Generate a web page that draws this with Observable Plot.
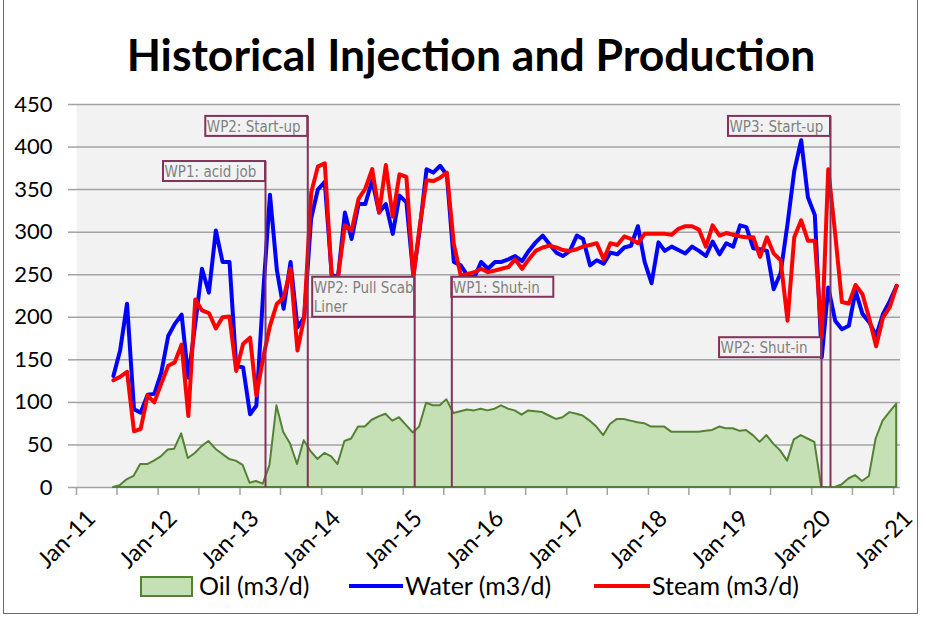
<!DOCTYPE html>
<html>
<head>
<meta charset="utf-8">
<script src="https://cdn.jsdelivr.net/npm/d3@7"></script>
<script src="https://cdn.jsdelivr.net/npm/@observablehq/plot@0.6"></script>
<style>
  body { margin: 0; background: #fff; }
  #wrap { position: relative; width: 926px; height: 620px; overflow: hidden; font-family: Lato, "Open Sans", sans-serif; color: #000; }
  #border { position: absolute; left: 3px; top: -3px; width: 915px; height: 617px; border: 1.5px solid #6b6b6b; box-sizing: border-box; }
  #title { position: absolute; top: 26px; left: 16px; width: 910px; text-align: center; font-weight: 700; font-size: 44.5px; line-height: 56px; white-space: nowrap; }
  #chart { position: absolute; left: 0; top: 90px; }
  .sw { position: absolute; box-sizing: border-box; }
  .lt { position: absolute; font-size: 25px; line-height: 30px; top: 570px; white-space: nowrap; }
</style>
</head>
<body>
<div id="wrap">
  <div id="border"></div>
  <div id="title">Historical Injection and Production</div>
  <div id="chart"></div>
  <div id="legend"></div>
</div>
<script>
// ---- Data (monthly, June 2011 – January 2021) ----
const water = [
  131,161,216,92,88,109,110,
  135,178,192,203,129,192,257,229,302,265,265,143,
  141,86,96,230,344,255,210,265,188,200,316,350,
  359,250,247,323,292,333,333,361,323,333,298,343,
  335,249,302,374,370,378,367,265,261,249,247,265,
  257,265,265,268,272,266,278,288,296,286,276,272,
  278,296,292,261,267,263,276,274,282,284,307,265,
  240,288,278,283,279,275,283,278,272,289,274,287,
  283,308,306,281,280,278,233,252,310,372,408,341,
  320,153,235,196,186,190,231,204,194,178,204,219,
  237
];
const steam = [
  126,130,136,66,69,108,100,
  122,143,147,168,84,221,208,205,187,200,201,137,
  169,176,108,153,190,216,223,257,161,200,346,377,
  381,247,247,308,302,339,351,374,323,379,318,368,
  365,247,306,361,360,364,370,286,249,251,253,257,
  253,255,257,259,268,257,268,278,282,284,282,279,
  278,280,283,285,287,268,287,285,295,292,287,298,
  298,298,298,297,304,307,307,303,283,308,296,299,
  297,295,294,294,271,294,275,267,196,294,314,290,
  290,176,374,298,218,216,238,227,198,166,200,212,
  237
];
const oil = [
  0,2,9,13,27,27,31,
  36,44,45,63,34,40,48,54,45,39,33,31,
  26,5,7,4,26,96,65,51,27,55,42,33,
  40,36,27,54,57,71,71,79,83,86,78,82,
  73,64,71,99,96,96,103,87,89,91,90,92,
  90,92,96,92,90,85,90,89,88,84,80,82,
  88,86,84,78,71,61,74,80,80,78,76,75,
  71,71,71,65,65,65,65,65,66,67,71,69,
  69,66,67,61,53,61,51,43,31,56,61,57,
  53,0,0,0,3,10,14,7,13,57,78,88,
  98
];
const yTicks = [0,50,100,150,200,250,300,350,400,450];
const xLabelYears = [2011,2012,2013,2014,2015,2016,2017,2018,2019,2020,2021];

// Event annotations
const annLabels = ["WP1: acid job","WP2: Start-up","WP2: Pull Scab\nLiner","WP1: Shut-in","WP3: Start-up","WP2: Shut-in"];
const annDates  = ["2013-04-25","2013-10-31","2015-02-21","2015-08-06","2020-03-25","2020-02-14"];
const annTops   = [383,436,247,247,436,176];
const annSides  = ["left","left","left","right","left","left"];

const legendLabels = ["Oil (m3/d)","Water (m3/d)","Steam (m3/d)"];

// ---- Build ----
const rows = water.map((w,i) => ({
  date: new Date(Date.UTC(2011, 5 + i, 15)),
  water: w, steam: steam[i], oil: oil[i]
}));
const DAY = 864e5, boxDays = 456, lineUnits = 23.5;
const ann = annLabels.map((label,i) => {
  const d = new Date(annDates[i] + "T00:00Z");
  const n = label.split("\n").length;
  const other = new Date(+d + (annSides[i] === "left" ? -1 : 1) * boxDays * DAY);
  return {label, date: d, top: annTops[i], bottom: annTops[i] - n*lineUnits,
          left: annSides[i] === "left" ? other : d, right: annSides[i] === "left" ? d : other};
});
const x0 = new Date(Date.UTC(2011,0,1)), x1 = new Date(Date.UTC(2021,1,1));
const halfYear = d3.utcMonth.every(6).range(x0, x1);
const yearTicks = xLabelYears.map(y => new Date(Date.UTC(y,0,1)));
const grid = "#a3a3a3", annColor = "#83325a";
const narrow = "'Liberation Sans Narrow','DejaVu Sans Condensed',sans-serif";

const chart = Plot.plot({
  width: 926, height: 480,
  marginTop: 14, marginBottom: 83, marginLeft: 76, marginRight: 26,
  x: {type: "utc", domain: [x0, x1]},
  y: {domain: [0, 450]},
  style: {fontFamily: "Lato, sans-serif", background: "transparent", overflow: "visible"},
  marks: [
    Plot.frame({fill: "#f2f2f2", stroke: null}),
    Plot.gridY(yTicks, {stroke: grid, strokeOpacity: 1, strokeWidth: 1.5}),
    Plot.axisY(yTicks, {tickSize: 8, tickPadding: 16, fontSize: 22, stroke: grid, strokeWidth: 1.5, fill: "#000", label: null, tickFormat: d => String(d)}),
    Plot.axisX(halfYear, {tickSize: 8, stroke: grid, strokeWidth: 1.5, fill: "none", label: null}),
    Plot.axisX(yearTicks, {tickSize: 0, tickPadding: 27, tickRotate: -45, fontSize: 23.5, fill: "#000", textAnchor: "end", lineAnchor: "middle", dx: 15, label: null, tickFormat: d3.utcFormat("%b-%y")}),
    Plot.areaY(rows, {x: "date", y: "oil", fill: "#c5e0b4", stroke: "#548235", strokeWidth: 2, curve: "linear"}),
    Plot.lineY(rows, {x: "date", y: "water", stroke: "#0000ff", strokeWidth: 4, strokeLinejoin: "round"}),
    Plot.lineY(rows, {x: "date", y: "steam", stroke: "#ff0000", strokeWidth: 4, strokeLinejoin: "round"}),
    Plot.rect(ann, {x1: "left", x2: "right", y1: "bottom", y2: "top", fill: "#f2f2f2", stroke: annColor, strokeWidth: 2}),
    Plot.ruleX(ann, {x: "date", y1: 0, y2: "top", stroke: annColor, strokeWidth: 2}),
    Plot.text(ann, {x: "left", y: "top", text: "label", textAnchor: "start", lineAnchor: "top", dx: 1, dy: 2, fontSize: 15, lineHeight: 1.27, fill: "#808080", fontFamily: narrow})
  ]
});
document.getElementById("chart").appendChild(chart);

// Legend
const leg = document.getElementById("legend");
const items = [
  {sw: {left: 140, top: 576, width: 53, height: 21, background: "#c5e0b4", border: "2px solid #548235"}, tx: 199},
  {sw: {left: 349, top: 584, width: 54, height: 4, background: "#0000ff"}, tx: 405},
  {sw: {left: 594, top: 584, width: 56, height: 4, background: "#ff0000"}, tx: 652}
];
items.forEach((it, i) => {
  const s = document.createElement("div");
  s.className = "sw";
  Object.entries(it.sw).forEach(([k,v]) => s.style[k] = typeof v === "number" ? v + "px" : v);
  leg.appendChild(s);
  const t = document.createElement("div");
  t.className = "lt";
  t.style.left = it.tx + "px";
  t.textContent = legendLabels[i];
  leg.appendChild(t);
});
</script>
</body>
</html>
